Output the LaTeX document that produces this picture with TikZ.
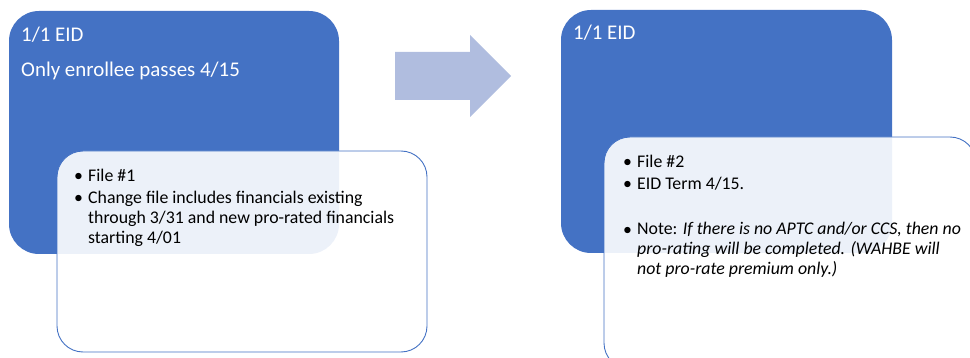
\documentclass[tikz,border=0pt]{standalone}
\usepackage{fontspec}
\setmainfont{Carlito}
\definecolor{eidblue}{RGB}{68,114,196}
\definecolor{arrowfill}{RGB}{176,189,223}
\begin{document}
\begin{tikzpicture}[x=1pt,y=-1pt,
  panel/.style={fill=eidblue, rounded corners=30pt, inner sep=0pt, outer sep=0pt, anchor=north west},
  card/.style={draw=eidblue, line width=0.9pt, fill=white, fill opacity=0.9, rounded corners=26pt, inner sep=0pt, outer sep=0pt, anchor=north west},
  title/.style={text=white, font=\fontsize{20.9}{25}\selectfont, anchor=base west, inner sep=0pt},
  body/.style={text=black, font=\fontsize{17.8}{20}\selectfont, anchor=base west, inner sep=0pt, align=left},
  bullet/.style={text=black, font=\fontsize{17.8}{20}\selectfont, anchor=base west, inner sep=0pt}
]
\useasboundingbox (0,0) rectangle (970,358);

% left panel: state before the change file
\node[panel, minimum width=330, minimum height=243] (p1) at (9,11) {};
\node[card, minimum width=370, minimum height=201] (c1) at (57,151) {};
\node[title] (h1) at (21,42) {1/1 EID};
\node[title] (s1) at (21,77) {Only enrollee passes 4/15};
\node[bullet] (b11) at (74,182) {\textbullet};
\node[body] (t11) at (88,182) {File \#1};
\node[bullet] (b12) at (74,204) {\textbullet};
% multi-line nodes are anchored on the baseline of their last line
\node[body] (t12) at (88,244) {Change file includes financials existing\\through 3/31 and new pro-rated financials\\starting 4/01};

% block arrow between the two states
\fill[arrowfill] (395,52) -- (470,52) -- (470,35) -- (511,76) -- (470,117) -- (470,100) -- (395,100) -- cycle;

% right panel: state after the term file
\node[panel, minimum width=331, minimum height=243] (p2) at (561,10) {};
\node[card, minimum width=372, minimum height=232] (c2) at (604,137) {};
\node[title] (h2) at (573,40) {1/1 EID};
\node[bullet] (b21) at (623,168) {\textbullet};
\node[body] (t21) at (637,168) {File \#2};
\node[bullet] (b22) at (623,190) {\textbullet};
\node[body] (t22) at (637,190) {EID Term 4/15.};
\node[bullet] (b23) at (623,236) {\textbullet};
\node[body] (t23) at (637,275) {Note: \textit{If there is no APTC and/or CCS, then no}\\\textit{pro-rating will be completed. (WAHBE will}\\\textit{not pro-rate premium only.)}};
\end{tikzpicture}
\end{document}
